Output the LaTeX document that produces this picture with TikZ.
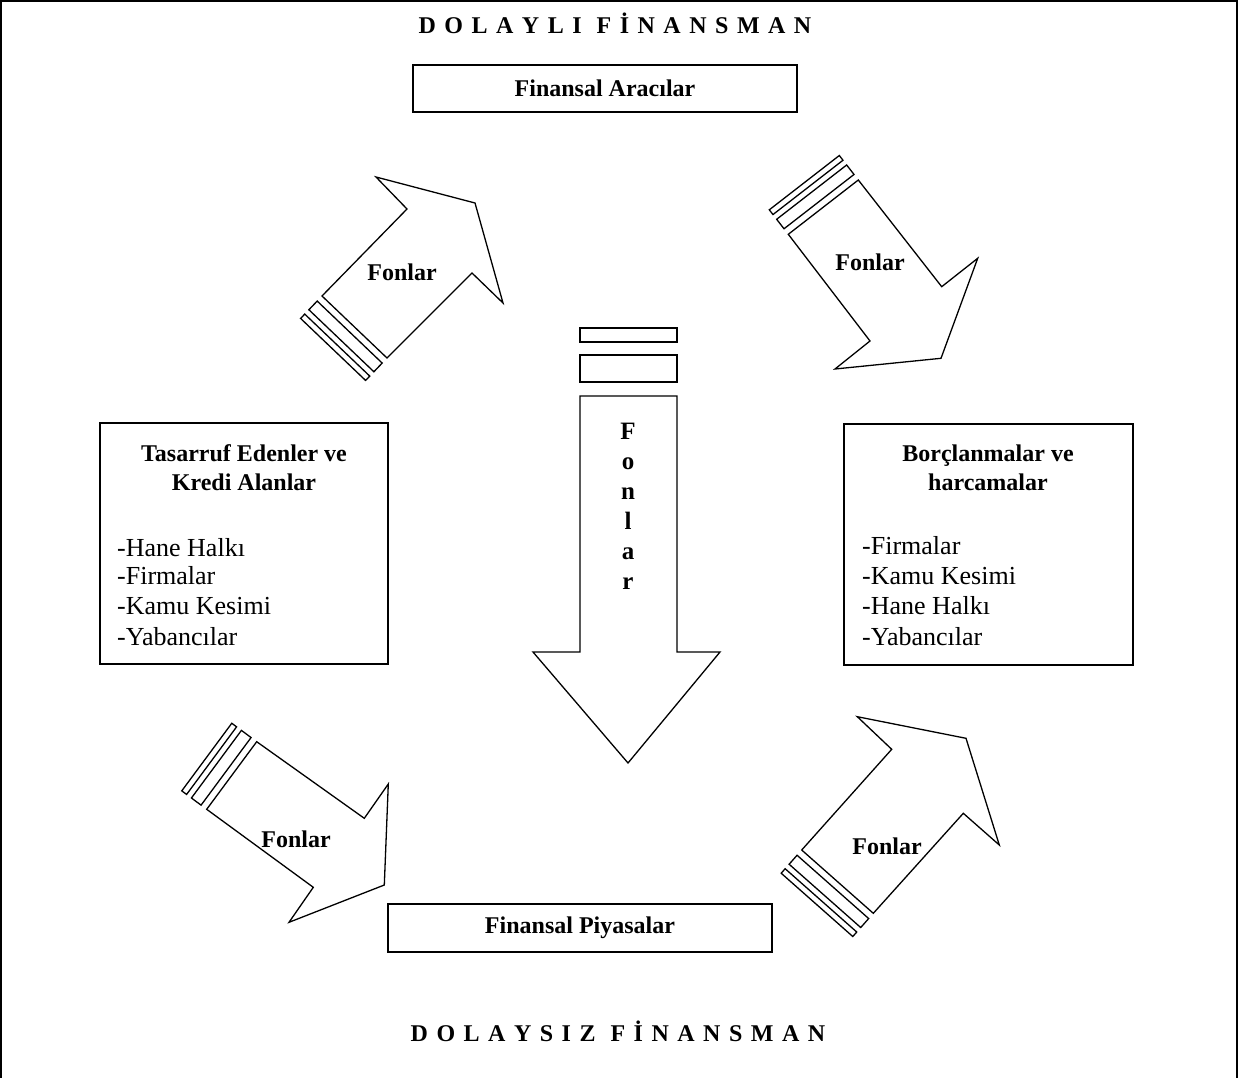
\documentclass[tikz,border=0pt]{standalone}
\usepackage{fontspec}
\setmainfont{Liberation Serif}
\usetikzlibrary{calc}
\newcommand\bandpair[4]{%
  \draw[shp] ($(#1)+7*(#3,#4)$) -- ($(#2)+7*(#3,#4)$) -- ($(#2)+19*(#3,#4)$) -- ($(#1)+19*(#3,#4)$) -- cycle;
  \draw[shp] ($(#1)+25*(#3,#4)$) -- ($(#2)+25*(#3,#4)$) -- ($(#2)+31*(#3,#4)$) -- ($(#1)+31*(#3,#4)$) -- cycle;}
\newcommand\spreadtxt[1]{\spaceskip=8.5pt\relax #1}
\begin{document}
\begin{tikzpicture}[x=1pt,y=-1pt,
  shp/.style={draw=black,line width=1.3pt,line join=miter},
  boxn/.style={draw=black,line width=1.3pt,rectangle,inner sep=0pt},
  blbl/.style={font=\fontsize{24}{29}\selectfont\bfseries,inner sep=0pt},
  hlbl/.style={font=\fontsize{24}{29}\selectfont\bfseries,inner sep=0pt,anchor=base},
  rlbl/.style={font=\fontsize{26}{30}\selectfont,inner sep=0pt,anchor=base west},
  ttl/.style={font=\fontsize{24}{28}\selectfont\bfseries,inner sep=0pt}]
\useasboundingbox (0,0) rectangle (1239,1078);
% frame (open at the bottom)
\draw[line width=1.3pt] (1,1078) -- (1,1) -- (1237,1) -- (1237,1078);
\draw[line width=2pt] (1,1) -- (1237,1);

% titles
\node[ttl] (t1) at (615,23) {\spreadtxt{D O L A Y L I\hspace{15pt}F İ N A N S M A N}};
\node[ttl] (t2) at (618,1031) {\spreadtxt{D O L A Y S I Z\hspace{15pt}F İ N A N S M A N}};

% top and bottom boxes
\node[boxn,minimum width=384pt,minimum height=47pt,blbl] (fa) at (605,88.5) {Finansal Aracılar};
\node[boxn,minimum width=384pt,minimum height=48pt,blbl] (fp) at (580,928) {Finansal Piyasalar};

% left box
\node[boxn,minimum width=288pt,minimum height=241pt] (lb) at (244,543.5) {};
\node[hlbl] (lbt1) at (244,461) {Tasarruf Edenler ve};
\node[hlbl] (lbt2) at (244,490) {Kredi Alanlar};
\node[rlbl] (lb1) at (117,556) {-Hane Halkı};
\node[rlbl] (lb2) at (117,584) {-Firmalar};
\node[rlbl] (lb3) at (117,614) {-Kamu Kesimi};
\node[rlbl] (lb4) at (117,645) {-Yabancılar};

% right box
\node[boxn,minimum width=289pt,minimum height=241pt] (rb) at (988.5,544.5) {};
\node[hlbl] (rbt1) at (988,461) {Borçlanmalar ve};
\node[hlbl] (rbt2) at (988,490) {harcamalar};
\node[rlbl] (rb1) at (862,554) {-Firmalar};
\node[rlbl] (rb2) at (862,584) {-Kamu Kesimi};
\node[rlbl] (rb3) at (862,614) {-Hane Halkı};
\node[rlbl] (rb4) at (862,645) {-Yabancılar};

% central arrow
\draw[shp] (580,328) rectangle (677,342);
\draw[shp] (580,355) rectangle (677,382);
\draw[shp] (580,396) -- (677,396) -- (677,652) -- (720,652) -- (628,763) -- (533,652) -- (580,652) -- cycle;
\foreach \ch [count=\i from 0] in {F,o,n,l,a,r}
  \node[hlbl,font=\fontsize{25}{29}\selectfont\bfseries] (c\i) at (628,{439+30*\i}) {\ch};

% top-left arrow
\coordinate (tlA) at (322,296);
\coordinate (tlB) at (387,358);
\draw[shp] (tlA) -- (407,209) -- (376,177) -- (475,203) -- (503,303) -- (472,273) -- (tlB) -- cycle;
\bandpair{tlA}{tlB}{-0.690}{0.724}
\node[blbl] (f1) at (402,272) {Fonlar};

% top-right arrow
\coordinate (trA) at (788.3,234.3);
\coordinate (trB) at (858.3,180);
\draw[shp] (trA) -- (trB) -- (941.7,286.7) -- (977.7,258.3) -- (941,358.3) -- (835,369) -- (870,341) -- cycle;
\bandpair{trA}{trB}{-0.613}{-0.790}
\node[blbl] (f2) at (870,262) {Fonlar};

% bottom-left arrow
\coordinate (blA) at (256.7,741.7);
\coordinate (blB) at (206.7,809.3);
\draw[shp] (blA) -- (364.3,818.3) -- (388.3,784) -- (384.3,885) -- (289,922.3) -- (313.3,887.3) -- (blB) -- cycle;
\bandpair{blA}{blB}{-0.804}{-0.595}
\node[blbl] (f3) at (296,839) {Fonlar};

% bottom-right arrow
\coordinate (brA) at (801.7,850);
\coordinate (brB) at (873.3,913.3);
\draw[shp] (brA) -- (891.7,749.3) -- (857.3,716.7) -- (966,738.3) -- (999.3,845) -- (963.3,813.3) -- (brB) -- cycle;
\bandpair{brA}{brB}{-0.662}{0.749}
\node[blbl] (f4) at (887,846) {Fonlar};
\end{tikzpicture}
\end{document}
